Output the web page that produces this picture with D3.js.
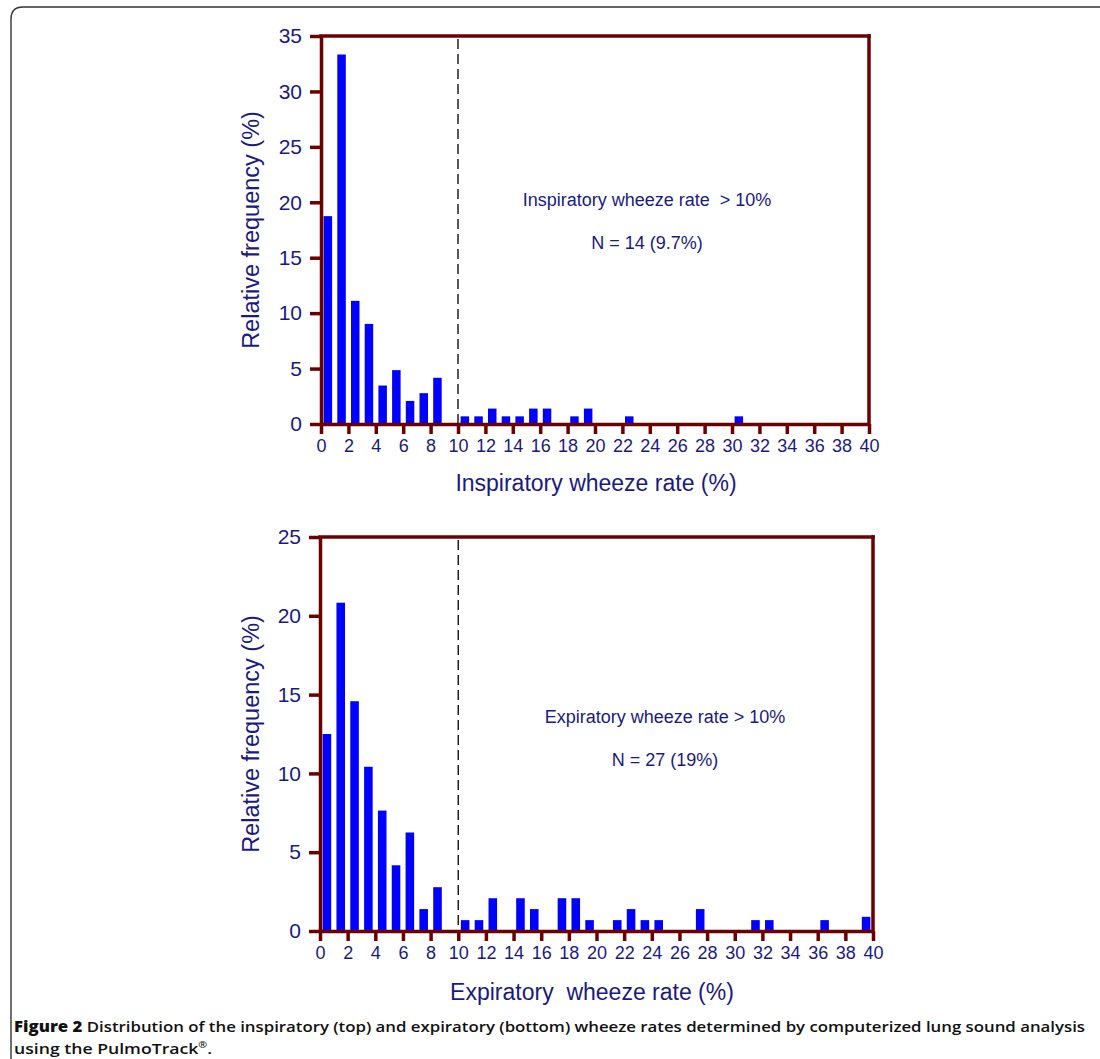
<!DOCTYPE html>
<html>
<head>
<meta charset="utf-8">
<script src="https://cdn.jsdelivr.net/npm/d3@7"></script>
<style>
  html, body { margin: 0; padding: 0; background: #fff; }
  svg { display: block; }
</style>
</head>
<body>
<svg id="chart" width="1100" height="1059"></svg>
<script>
// ---- Data (relative frequency %, bins of width 1 starting at the given lower bound) ----
const binStarts = d3.range(0, 40);
const inspiratoryValues = [18.75, 33.33, 11.11, 9.03, 3.47, 4.86, 2.08, 2.78, 4.17, 0,
  0.69, 0.69, 1.39, 0.69, 0.69, 1.39, 1.39, 0, 0.69, 1.39,
  0, 0, 0.69, 0, 0, 0, 0, 0, 0, 0,
  0.69, 0, 0, 0, 0, 0, 0, 0, 0, 0];
const expiratoryValues = [12.5, 20.83, 14.58, 10.42, 7.64, 4.17, 6.25, 1.39, 2.78, 0,
  0.69, 0.69, 2.08, 0, 2.08, 1.39, 0, 2.08, 2.08, 0.69,
  0, 0.69, 1.39, 0.69, 0.69, 0, 0, 1.39, 0, 0,
  0, 0.69, 0.69, 0, 0, 0, 0.69, 0, 0, 0.9];
const xTicks = d3.range(0, 41, 2);
const yTicksTop = [0, 5, 10, 15, 20, 25, 30, 35];
const yTicksBottom = [0, 5, 10, 15, 20, 25];
const thresholdValue = 10;
const yTitle = "Relative frequency (%)";
const xTitleTop = "Inspiratory wheeze rate (%)";
const xTitleBottom = "Expiratory  wheeze rate (%)";
const noteTop = ["Inspiratory wheeze rate  > 10%", "N = 14 (9.7%)"];
const noteBottom = ["Expiratory wheeze rate > 10%", "N = 27 (19%)"];

// ---- Styles ----
const AXIS = "#6b0000";
const LABEL = "#1a1a80";
const BAR = "#0000ff";
const FONT = "'Liberation Sans', Arial, Helvetica, sans-serif";

const svg = d3.select("#chart");

// outer frame (left + top edges with rounded corner)
svg.append("path")
  .attr("d", "M11,1059 L11,19 Q11,7 23,7 L1100,7")
  .attr("fill", "none").attr("stroke", "#333").attr("stroke-width", 1.4);

function drawPanel(cfg) {
  const x = d3.scaleLinear().domain([0, 40]).range([cfg.x0, cfg.x1]);
  const y = d3.scaleLinear().domain([0, cfg.ymax]).range([cfg.y0, cfg.y1]);
  const g = svg.append("g");
  const unit = x(1) - x(0);

  // bars
  g.selectAll("rect.bar").data(binStarts.map((b, i) => ({b, v: cfg.values[i]})).filter(d => d.v > 0))
    .enter().append("rect")
    .attr("x", d => x(d.b + 0.5) - unit * 0.31)
    .attr("width", unit * 0.62)
    .attr("y", d => y(d.v))
    .attr("height", d => y(0) - y(d.v))
    .attr("fill", BAR);

  // dashed threshold
  g.append("line")
    .attr("x1", x(thresholdValue)).attr("x2", x(thresholdValue))
    .attr("y1", y(cfg.ymax) + 3).attr("y2", y(0))
    .attr("stroke", "#111").attr("stroke-width", 1.4)
    .attr("stroke-dasharray", "10,5");

  // left axis
  const ya = g.append("g").attr("transform", `translate(${x(0)},0)`)
    .call(d3.axisLeft(y).tickValues(cfg.yTicks).tickSize(11).tickSizeOuter(0).tickPadding(8));
  ya.select(".domain").attr("stroke", AXIS).attr("stroke-width", 3.5);
  ya.selectAll(".tick line").attr("stroke", AXIS).attr("stroke-width", 3.5);
  ya.selectAll(".tick text").attr("fill", LABEL).attr("font-family", FONT).attr("font-size", 21);

  // bottom axis
  const xa = g.append("g").attr("transform", `translate(0,${y(0)})`)
    .call(d3.axisBottom(x).tickValues(xTicks).tickSize(10).tickSizeOuter(0).tickPadding(5));
  xa.select(".domain").attr("stroke", AXIS).attr("stroke-width", 3.5);
  xa.selectAll(".tick line").attr("stroke", AXIS).attr("stroke-width", 3.5);
  xa.selectAll(".tick text").attr("fill", LABEL).attr("font-family", FONT).attr("font-size", 18);

  // top and right frame
  g.append("line").attr("x1", x(0)).attr("x2", x(40)).attr("y1", y(cfg.ymax)).attr("y2", y(cfg.ymax))
    .attr("stroke", AXIS).attr("stroke-width", 3.5).attr("stroke-linecap", "square");
  g.append("line").attr("x1", x(40)).attr("x2", x(40)).attr("y1", y(cfg.ymax)).attr("y2", y(0))
    .attr("stroke", AXIS).attr("stroke-width", 3.5).attr("stroke-linecap", "square");

  // axis titles
  g.append("text")
    .attr("transform", `translate(${cfg.yTitleX},${(y(0) + y(cfg.ymax)) / 2}) rotate(-90)`)
    .attr("text-anchor", "middle").attr("fill", LABEL).attr("font-family", FONT).attr("font-size", 23.5)
    .text(yTitle);
  g.append("text")
    .attr("x", cfg.xTitleX).attr("y", cfg.xTitleY)
    .attr("text-anchor", "middle").attr("fill", LABEL).attr("font-family", FONT).attr("font-size", 23)
    .style("white-space", "pre")
    .text(cfg.xTitle);

  // notes
  g.append("text").attr("x", cfg.noteX).attr("y", cfg.noteY)
    .attr("text-anchor", "middle").attr("fill", LABEL).attr("font-family", FONT).attr("font-size", 18)
    .style("white-space", "pre").text(cfg.note[0]);
  g.append("text").attr("x", cfg.noteX).attr("y", cfg.noteY + 43)
    .attr("text-anchor", "middle").attr("fill", LABEL).attr("font-family", FONT).attr("font-size", 18)
    .text(cfg.note[1]);
}

drawPanel({
  x0: 321, x1: 869, y0: 424, y1: 36, ymax: 35,
  values: inspiratoryValues, yTicks: yTicksTop,
  yTitleX: 259, xTitle: xTitleTop, xTitleX: 596, xTitleY: 491,
  note: noteTop, noteX: 647, noteY: 206
});
drawPanel({
  x0: 320, x1: 873, y0: 931, y1: 537, ymax: 25,
  values: expiratoryValues, yTicks: yTicksBottom,
  yTitleX: 259, xTitle: xTitleBottom, xTitleX: 592, xTitleY: 1000,
  note: noteBottom, noteX: 665, noteY: 723
});

// caption
const CAP_FONT = "'Open Sans', 'Noto Sans', sans-serif";
const cap1 = svg.append("text").attr("x", 14).attr("y", 1032)
  .attr("font-family", CAP_FONT).attr("font-size", 15).attr("fill", "#111")
  .attr("textLength", 1071).attr("lengthAdjust", "spacingAndGlyphs");
cap1.append("tspan").attr("font-weight", "800").text("Figure 2");
cap1.append("tspan").attr("font-weight", "600").text(" Distribution of the inspiratory (top) and expiratory (bottom) wheeze rates determined by computerized lung sound analysis");
const cap2 = svg.append("text").attr("x", 14).attr("y", 1054)
  .attr("font-family", CAP_FONT).attr("font-size", 15).attr("fill", "#111").attr("font-weight", "600")
  .attr("textLength", 198).attr("lengthAdjust", "spacingAndGlyphs");
cap2.append("tspan").text("using the PulmoTrack");
cap2.append("tspan").attr("font-size", 9).attr("dy", -6).text("®");
cap2.append("tspan").attr("dy", 6).text(".");
</script>
</body>
</html>
